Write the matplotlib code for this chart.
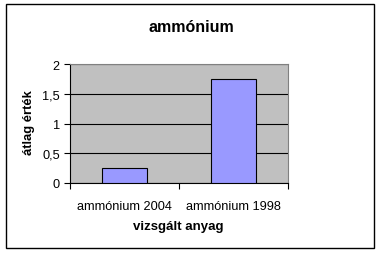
import matplotlib
matplotlib.use("Agg")
import matplotlib.pyplot as plt
from matplotlib.patches import Rectangle
from matplotlib.ticker import FixedLocator, NullFormatter

plt.rcParams["font.family"] = ["Liberation Sans", "DejaVu Sans"]

categories = ["ammónium 2004", "ammónium 1998"]
values = [0.25, 1.75]
y_ticks = [0, 0.5, 1, 1.5, 2]
y_labels = ["0", "0,5", "1", "1,5", "2"]

fig = plt.figure(figsize=(3.81, 2.55), dpi=100)
fig.patch.set_facecolor("white")
fig.patches.append(Rectangle((6 / 381, 1 - 249 / 255), 368 / 381, 244 / 255,
                             transform=fig.transFigure, fill=False,
                             edgecolor="black", linewidth=1))

ax = fig.add_axes([69.5 / 381, 1 - 184 / 255, 218.5 / 381, 119 / 255])
ax.set_facecolor("#C0C0C0")

x = range(len(categories))
ax.bar(x, values, width=0.41, color="#9999FF", edgecolor="black", linewidth=0.8, zorder=3)

ax.set_xlim(-0.5, len(categories) - 0.5)
ax.set_ylim(0, 2)
ax.set_yticks(y_ticks)
ax.set_yticklabels(y_labels)
ax.yaxis.grid(True, color="black", linewidth=0.8, zorder=1)
ax.set_axisbelow(True)

ax.set_xticks(list(x))
ax.set_xticklabels(categories)
ax.tick_params(axis="x", which="major", length=0, pad=12)
ax.xaxis.set_minor_locator(FixedLocator([-0.5, 0.5, 1.5]))
ax.xaxis.set_minor_formatter(NullFormatter())
ax.tick_params(axis="x", which="minor", length=4, width=0.8, direction="out")
ax.tick_params(axis="y", length=4, width=0.8, direction="out", pad=3)
ax.tick_params(labelsize=9.2)

for s in ["top", "right"]:
    ax.spines[s].set_color("#808080")
    ax.spines[s].set_linewidth(0.8)
for s in ["left", "bottom"]:
    ax.spines[s].set_color("black")
    ax.spines[s].set_linewidth(0.8)

fig.text(191.5 / 381, 1 - 28 / 255, "ammónium", ha="center", va="center",
         fontsize=11.5, fontweight="bold")
fig.text(178 / 381, 1 - 227 / 255, "vizsgált anyag", ha="center", va="center",
         fontsize=9.5, fontweight="bold")
fig.text(29 / 381, 1 - 123 / 255, "átlag érték", ha="center", va="center",
         fontsize=9.4, fontweight="bold", rotation=90)

fig.savefig("out.png", dpi=100)
